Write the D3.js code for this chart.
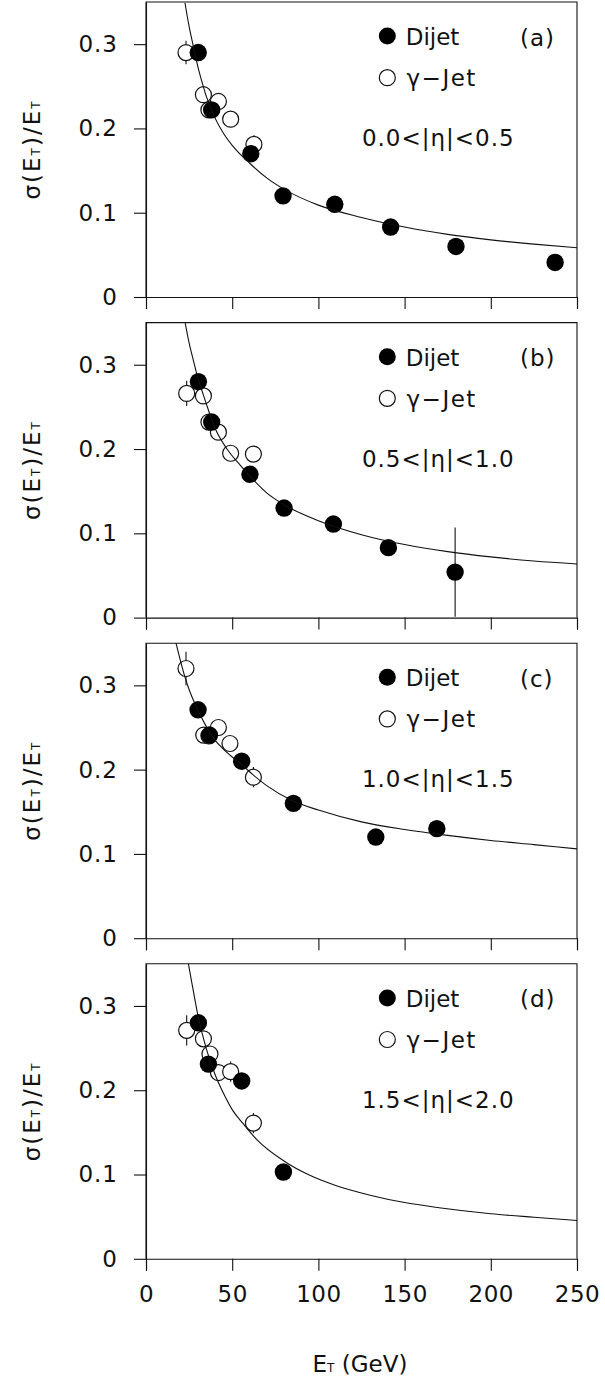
<!DOCTYPE html>
<html>
<head>
<meta charset="utf-8">
<script src="https://cdn.jsdelivr.net/npm/d3@7"></script>
<style>
  html, body { margin: 0; padding: 0; background: #fff; }
  svg { display: block; }
</style>
</head>
<body>
<script>
// ---------------- DATA ----------------
const xTicks = [0, 50, 100, 150, 200, 250];
const yTicks = [0, 0.1, 0.2, 0.3];
const panelLabels = ["(a)", "(b)", "(c)", "(d)"];
const etaLabels = ["0.0<|η|<0.5", "0.5<|η|<1.0", "1.0<|η|<1.5", "1.5<|η|<2.0"];
const legendLabels = ["Dijet", "γ−Jet"];

// [E_T, sigma/E_T, error]
const dijetA = [[30.3,0.29,0],[38.1,0.222,0],[60.8,0.17,0],[79.5,0.12,0],[109.5,0.11,0],[141.9,0.083,0],[179.8,0.06,0],[237.3,0.041,0]];
const gammaA = [[23.2,0.29,0.014],[33.3,0.24,0],[36.5,0.222,0],[42,0.232,0],[49.1,0.211,0],[62.6,0.181,0.011]];
const dijetB = [[30.4,0.28,0],[38.1,0.232,0],[60.3,0.17,0],[80.1,0.13,0],[108.7,0.111,0],[140.6,0.083,0],[179.3,0.054,0.053]];
const gammaB = [[23.6,0.266,0.015],[33.3,0.263,0],[36.5,0.232,0],[42,0.22,0],[49.1,0.195,0],[62.3,0.194,0]];
const dijetC = [[30.2,0.271,0],[36.8,0.241,0],[55.5,0.21,0],[85.5,0.16,0],[133.3,0.12,0],[168.7,0.13,0]];
const gammaC = [[23.2,0.32,0.02],[33.5,0.241,0],[36.5,0.24,0],[42,0.25,0],[48.7,0.231,0],[62.3,0.191,0.012]];
const dijetD = [[30.4,0.28,0],[36.2,0.231,0],[55.5,0.211,0],[79.7,0.103,0]];
const gammaD = [[23.6,0.271,0.018],[33.3,0.261,0],[37.1,0.243,0],[42,0.221,0],[49.1,0.222,0.012],[62.3,0.161,0.012]];

// fitted resolution curves [E_T, sigma/E_T]
const curveA = [[22.6,0.349],[25,0.321],[27.5,0.297],[30,0.274],[32.5,0.255],[35,0.238],[40,0.2125],[45,0.194],[50,0.18],[60,0.159],[70,0.1414],[80,0.128],[100,0.109],[125,0.0944],[150,0.083],[175,0.0743],[200,0.0678],[225,0.0627],[250,0.0584]];
const curveB = [[22.6,0.351],[25,0.326],[27.5,0.305],[30,0.285],[33.3,0.264],[35,0.2535],[40,0.225],[47,0.2],[55,0.18],[62,0.164],[70,0.148],[80,0.134],[100,0.115],[125,0.0984],[150,0.0867],[175,0.0783],[200,0.072],[225,0.0671],[250,0.0636]];
const curveC = [[17.4,0.35],[20,0.329],[22,0.314],[25,0.295],[30,0.271],[35,0.251],[40,0.235],[45,0.224],[50,0.215],[55,0.207],[62,0.194],[70,0.181],[85,0.163],[100,0.152],[125,0.138],[150,0.129],[175,0.122],[200,0.116],[225,0.111],[250,0.106]];
const curveD = [[24.6,0.35],[27,0.323],[30,0.29],[35,0.249],[40,0.219],[45,0.196],[50,0.177],[56.5,0.16],[64,0.142],[80,0.116],[95,0.099],[110,0.087],[130,0.0755],[150,0.0667],[170,0.0606],[200,0.0535],[225,0.0493],[250,0.0454]];

const panels = [
  {dijet: dijetA, gamma: gammaA, curve: curveA},
  {dijet: dijetB, gamma: gammaB, curve: curveB},
  {dijet: dijetC, gamma: gammaC, curve: curveC},
  {dijet: dijetD, gamma: gammaD, curve: curveD}
];

// ---------------- LAYOUT ----------------
const W = 605, H = 1381;
const FONT = "'DejaVu Sans', 'Liberation Sans', sans-serif";
const INK = "#111";
const firstZero = 297, stride = 320.6, panelH = 295;

const svg = d3.select("body").append("svg")
  .attr("width", W).attr("height", H)
  .attr("viewBox", `0 0 ${W} ${H}`);
svg.append("rect").attr("width", W).attr("height", H).attr("fill", "#fff");

const x = d3.scaleLinear().domain([0, 250]).range([146, 577]);

panels.forEach((p, i) => {
  const zero = firstZero + i * stride;
  const top = zero - panelH;
  const y = d3.scaleLinear().domain([0, 0.35]).range([zero, top]);
  const g = svg.append("g");

  // clip
  const cid = "clip" + i;
  svg.append("clipPath").attr("id", cid).append("rect")
    .attr("x", x(0)).attr("y", top).attr("width", x(250) - x(0)).attr("height", zero - top);

  // frame: left, top, right
  g.append("path")
    .attr("d", `M${x(0)},${zero}V${top}H${x(250)}V${zero}`)
    .attr("fill", "none").attr("stroke", INK).attr("stroke-width", 1.1);

  // x axis
  const xa = d3.axisBottom(x).tickValues(xTicks).tickSize(12).tickSizeOuter(12).tickPadding(15)
    .tickFormat(i === 3 ? d3.format("d") : () => "");
  const gx = g.append("g").attr("transform", `translate(0,${zero})`).call(xa);
  gx.attr("font-family", FONT).attr("font-size", 23).attr("color", INK);
  gx.selectAll("line, path").attr("stroke-width", 1.1);
  gx.selectAll("text").attr("letter-spacing", 0.5);

  // y axis
  const ya = d3.axisLeft(y).tickValues(yTicks).tickSize(12).tickSizeOuter(0).tickPadding(16)
    .tickFormat(d => d === 0 ? "0" : d3.format(".1f")(d));
  const gy = g.append("g").attr("transform", `translate(${x(0)},0)`).call(ya);
  gy.attr("font-family", FONT).attr("font-size", 23).attr("color", INK);
  gy.selectAll("line, path").attr("stroke-width", 1.1);
  gy.selectAll("text").attr("letter-spacing", 1);

  // y title
  const yt = svg.append("text")
    .attr("transform", `translate(40,${(top + zero) / 2}) rotate(-90)`)
    .attr("text-anchor", "middle")
    .attr("font-family", FONT).attr("font-size", 23).attr("fill", INK)
    .attr("letter-spacing", 2);
  yt.append("tspan").text("σ(E");
  yt.append("tspan").attr("font-size", 12).text("T");
  yt.append("tspan").text(")/E");
  yt.append("tspan").attr("font-size", 12).text("T");

  const body = g.append("g").attr("clip-path", `url(#${cid})`);

  // error bars
  const allPts = p.gamma.concat(p.dijet).filter(d => d[2] > 0);
  body.selectAll(".err").data(allPts).enter().append("line")
    .attr("x1", d => x(d[0])).attr("x2", d => x(d[0]))
    .attr("y1", d => y(Math.max(0, d[1] - d[2]))).attr("y2", d => y(d[1] + d[2]))
    .attr("stroke", INK).attr("stroke-width", 1.1);

  // open circles (gamma-jet)
  body.selectAll(".open").data(p.gamma).enter().append("circle")
    .attr("cx", d => x(d[0])).attr("cy", d => y(d[1])).attr("r", 8)
    .attr("fill", "#fff").attr("stroke", INK).attr("stroke-width", 1.2);

  // filled circles (dijet)
  body.selectAll(".fill").data(p.dijet).enter().append("circle")
    .attr("cx", d => x(d[0])).attr("cy", d => y(d[1])).attr("r", 8.7)
    .attr("fill", "#000");

  // fitted curve
  const line = d3.line().x(d => x(d[0])).y(d => y(d[1])).curve(d3.curveMonotoneX);
  body.append("path").datum(p.curve).attr("d", line)
    .attr("fill", "none").attr("stroke", INK).attr("stroke-width", 1.1);

  // legend
  g.append("circle").attr("cx", 387.3).attr("cy", top + 34.1).attr("r", 8.5).attr("fill", "#000");
  g.append("text").attr("x", 405.7).attr("y", top + 43.2)
    .attr("font-family", FONT).attr("font-size", 23).attr("fill", INK).text(legendLabels[0]);
  g.append("circle").attr("cx", 387.3).attr("cy", top + 75.7).attr("r", 8)
    .attr("fill", "#fff").attr("stroke", INK).attr("stroke-width", 1.2);
  g.append("text").attr("x", 406.5).attr("y", top + 84.1)
    .attr("font-family", FONT).attr("font-size", 23).attr("fill", INK)
    .attr("letter-spacing", 1.5).text(legendLabels[1]);

  // panel label
  g.append("text").attr("x", 520).attr("y", top + 43.5)
    .attr("font-family", FONT).attr("font-size", 23).attr("fill", INK)
    .attr("letter-spacing", 1).text(panelLabels[i]);

  // eta range
  g.append("text").attr("x", 438.3).attr("y", top + 144)
    .attr("text-anchor", "middle")
    .attr("font-family", FONT).attr("font-size", 23).attr("fill", INK)
    .attr("letter-spacing", 1).text(etaLabels[i]);
});

// x title
const xt = svg.append("text")
  .attr("x", 360).attr("y", 1371.7).attr("text-anchor", "middle")
  .attr("font-family", FONT).attr("font-size", 23).attr("fill", INK);
xt.append("tspan").text("E");
xt.append("tspan").attr("font-size", 12).text("T");
xt.append("tspan").text(" (GeV)");
</script>
</body>
</html>
